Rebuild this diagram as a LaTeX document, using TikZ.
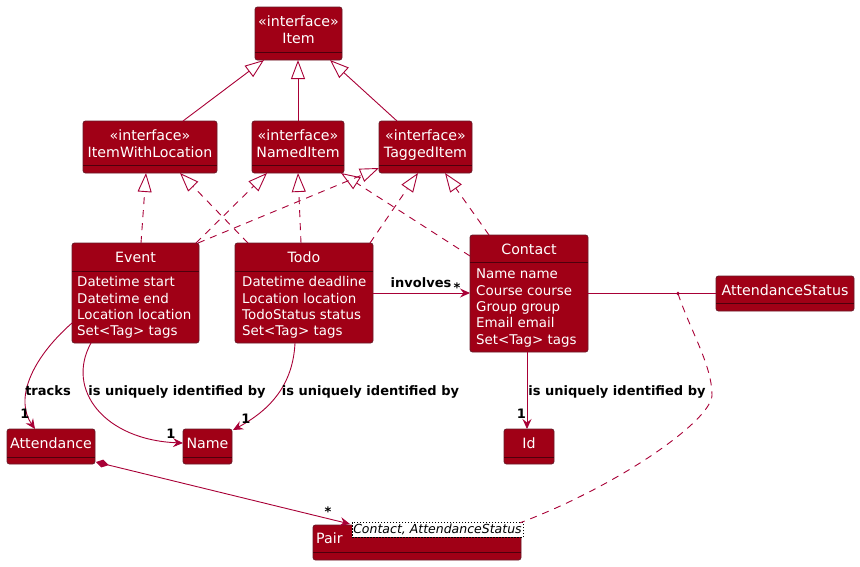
\documentclass[tikz,border=0pt]{standalone}
\usepackage{fontspec}
\setmainfont{DejaVu Sans}
\usetikzlibrary{arrows.meta,calc}
\definecolor{boxfill}{HTML}{A00016}
\definecolor{boxline}{HTML}{6A1A28}
\definecolor{sepcol}{HTML}{4E000C}
\definecolor{linecol}{HTML}{A80036}
\newcommand\umltitle{\fontsize{14.2}{17}\selectfont}
\newcommand\umlattr{\fontsize{13.4}{16.3}\selectfont}
\newcommand\umllab{\fontsize{13}{15}\selectfont\bfseries}
\newcommand\umltpl{\fontsize{12.5}{14}\selectfont\itshape}
\newcommand\umlbox[6]{%
  \node[clsbox, minimum width={(#4)-(#2)}, minimum height={(#5)-(#3)}] (#1) at ({((#2)+(#4))/2},{((#3)+(#5))/2}) {};
  \draw[sepline] (#2,#6) -- (#4,#6);}
\tikzset{
  clsbox/.style={draw=boxline, fill=boxfill, line width=0.8pt, rounded corners=2.5pt, inner sep=0pt, outer sep=0pt},
  sepline/.style={draw=sepcol, line width=0.8pt},
  ttl/.style={font=\umltitle, text=white, inner sep=0pt, anchor=base},
  attr/.style={font=\umlattr, text=white, inner sep=0pt, align=left, anchor=north west},
  lab/.style={font=\umllab, text=black, inner sep=0pt, anchor=base},
  conn/.style={draw=linecol, line width=0.9pt},
  genz/.style={conn, -{Triangle[length=19pt,width=14pt,fill=white]}},
  realiz/.style={genz, dash pattern=on 7pt off 6pt},
  assoc/.style={conn, -{Stealth[length=10pt,width=9pt,inset=3.5pt]}},
}
\begin{document}
\begin{tikzpicture}[x=1pt,y=-1pt]
\path[use as bounding box] (0,0) rectangle (860,566);
% class boxes
\umlbox{item}{255}{7}{342}{60}{52}
\umlbox{iwl}{83}{121}{217}{173}{165}
\umlbox{named}{252}{121}{344}{173}{165}
\umlbox{tagged}{379}{121}{472}{173}{165}
\umlbox{event}{72}{243}{199}{343}{271}
\umlbox{todo}{235}{243}{373}{343}{271}
\umlbox{contact}{470}{235}{588}{352}{262}
\umlbox{astatus}{716}{276}{854}{311}{303}
\umlbox{attendance}{7}{429}{95}{464}{457}
\umlbox{name}{183}{429}{232}{464}{457}
\umlbox{id}{504}{429}{554}{464}{457}
\umlbox{pair}{313}{525}{521}{560}{552}
% titles
\node[ttl] (item-s) at (298.5,26.5) {«interface»};
\node[ttl] (item-n) at (298.5,43) {Item};
\node[ttl] (iwl-s) at (150,140) {«interface»};
\node[ttl] (iwl-n) at (150,157) {ItemWithLocation};
\node[ttl] (named-s) at (298,140) {«interface»};
\node[ttl] (named-n) at (298,157) {NamedItem};
\node[ttl] (tagged-s) at (425.5,140) {«interface»};
\node[ttl] (tagged-n) at (425.5,157) {TaggedItem};
\node[ttl] (event-n) at (135.5,262) {Event};
\node[ttl] (todo-n) at (304,262) {Todo};
\node[ttl] (contact-n) at (529,254) {Contact};
\node[ttl] (astatus-n) at (785,295) {AttendanceStatus};
\node[ttl] (attendance-n) at (51,448) {Attendance};
\node[ttl] (name-n) at (207.5,448) {Name};
\node[ttl] (id-n) at (529,448) {Id};
\node[ttl, anchor=base west] (pair-n) at (316,543) {Pair};
% attributes
\node[attr] (event-a) at (77,276.5) {Datetime start\\Datetime end\\Location location\\Set<Tag> tags};
\node[attr] (todo-a) at (242,276.5) {Datetime deadline\\Location location\\TodoStatus status\\Set<Tag> tags};
\node[attr] (contact-a) at (476,269) {Name name\\Course course\\Group group\\Email email\\Set<Tag> tags};
% template parameter box
\node[draw=black, dash pattern=on 1.5pt off 1.5pt, line width=0.6pt, fill=white, font=\umltpl, inner sep=0pt, minimum width=171, minimum height=15] (tpl) at (437.5,529.5) {Contact, AttendanceStatus};
% generalizations
\draw[genz] ([shift={(100,0)}]iwl.north west) -- ([shift={(9,0)}]item.south west);
\draw[genz] (named.north) -- (named.north |- item.south);
\draw[genz] ([shift={(18,0)}]tagged.north west) -- ([shift={(75,0)}]item.south west);
% realizations
\draw[realiz] ([shift={(69,0)}]event.north west) -- ([shift={(63,0)}]iwl.south west);
\draw[realiz] ([shift={(13,0)}]todo.north west) -- ([shift={(97,0)}]iwl.south west);
\draw[realiz] ([shift={(-3,0)}]event.north east) -- ([shift={(15,0)}]named.south west);
\draw[realiz] ([shift={(66,0)}]todo.north west) -- (named.south);
\draw[realiz] ([shift={(0,21)}]contact.north west) -- ([shift={(-3,0)}]named.south east);
\draw[realiz] ([shift={(-1,0)}]event.north east) -- ([shift={(0,-5)}]tagged.south west);
\draw[realiz] ([shift={(-3,0)}]todo.north east) -- ([shift={(39,0)}]tagged.south west);
\draw[realiz] ([shift={(19,0)}]contact.north west) -- ([shift={(66,0)}]tagged.south west);
% associations
\draw[assoc] (todo.east) -- (todo.east -| contact.west);
\draw[conn] (contact.east) -- (astatus.west);
\coordinate (ac) at ($(contact.east)!0.703!(astatus.west)$);
\fill[linecol] (ac) circle[radius=1.8pt];
\draw[conn, dash pattern=on 7pt off 6pt] (ac) .. controls (690,330) and (712,365) .. (712,395) .. controls (712,420) and (620,485) .. ([shift={(-3,1)}]tpl.north east);
\draw[assoc] ([shift={(0,80)}]event.north west) .. controls (30,360) and (15,400) .. ([shift={(28,0)}]attendance.north west);
\draw[assoc] ([shift={(19,0)}]event.south west) .. controls (65,390) and (105,440) .. ([shift={(0,14)}]name.north west);
\draw[assoc] ([shift={(60,0)}]todo.south west) .. controls (293,385) and (270,410) .. ([shift={(1,1)}]name.north east);
\draw[assoc] ($(contact.south)+(-2,0)$) -- ($(contact.south |- id.north)+(-2,0)$);
\draw[conn, {Diamond[length=13pt,width=8pt]}-{Stealth[length=10pt,width=9pt,inset=3.5pt]}] ([shift={(1,-2)}]attendance.south east) -- ([shift={(37,-1)}]pair.north west);
% labels
\node[lab] (l-inv) at (421,287) {involves};
\node[lab] (m-inv) at (457,292) {*};
\node[lab] (l-trk) at (48,395) {tracks};
\node[lab] (m-trk) at (25,418) {1};
\node[lab] (l-evn) at (177,395) {is uniquely identified by};
\node[lab] (m-evn) at (171,438) {1};
\node[lab] (l-tdn) at (370.5,395) {is uniquely identified by};
\node[lab] (m-tdn) at (246,423) {1};
\node[lab] (l-cid) at (617,395) {is uniquely identified by};
\node[lab] (m-cid) at (521.5,418) {1};
\node[lab] (m-pair) at (328,516) {*};
\end{tikzpicture}
\end{document}
